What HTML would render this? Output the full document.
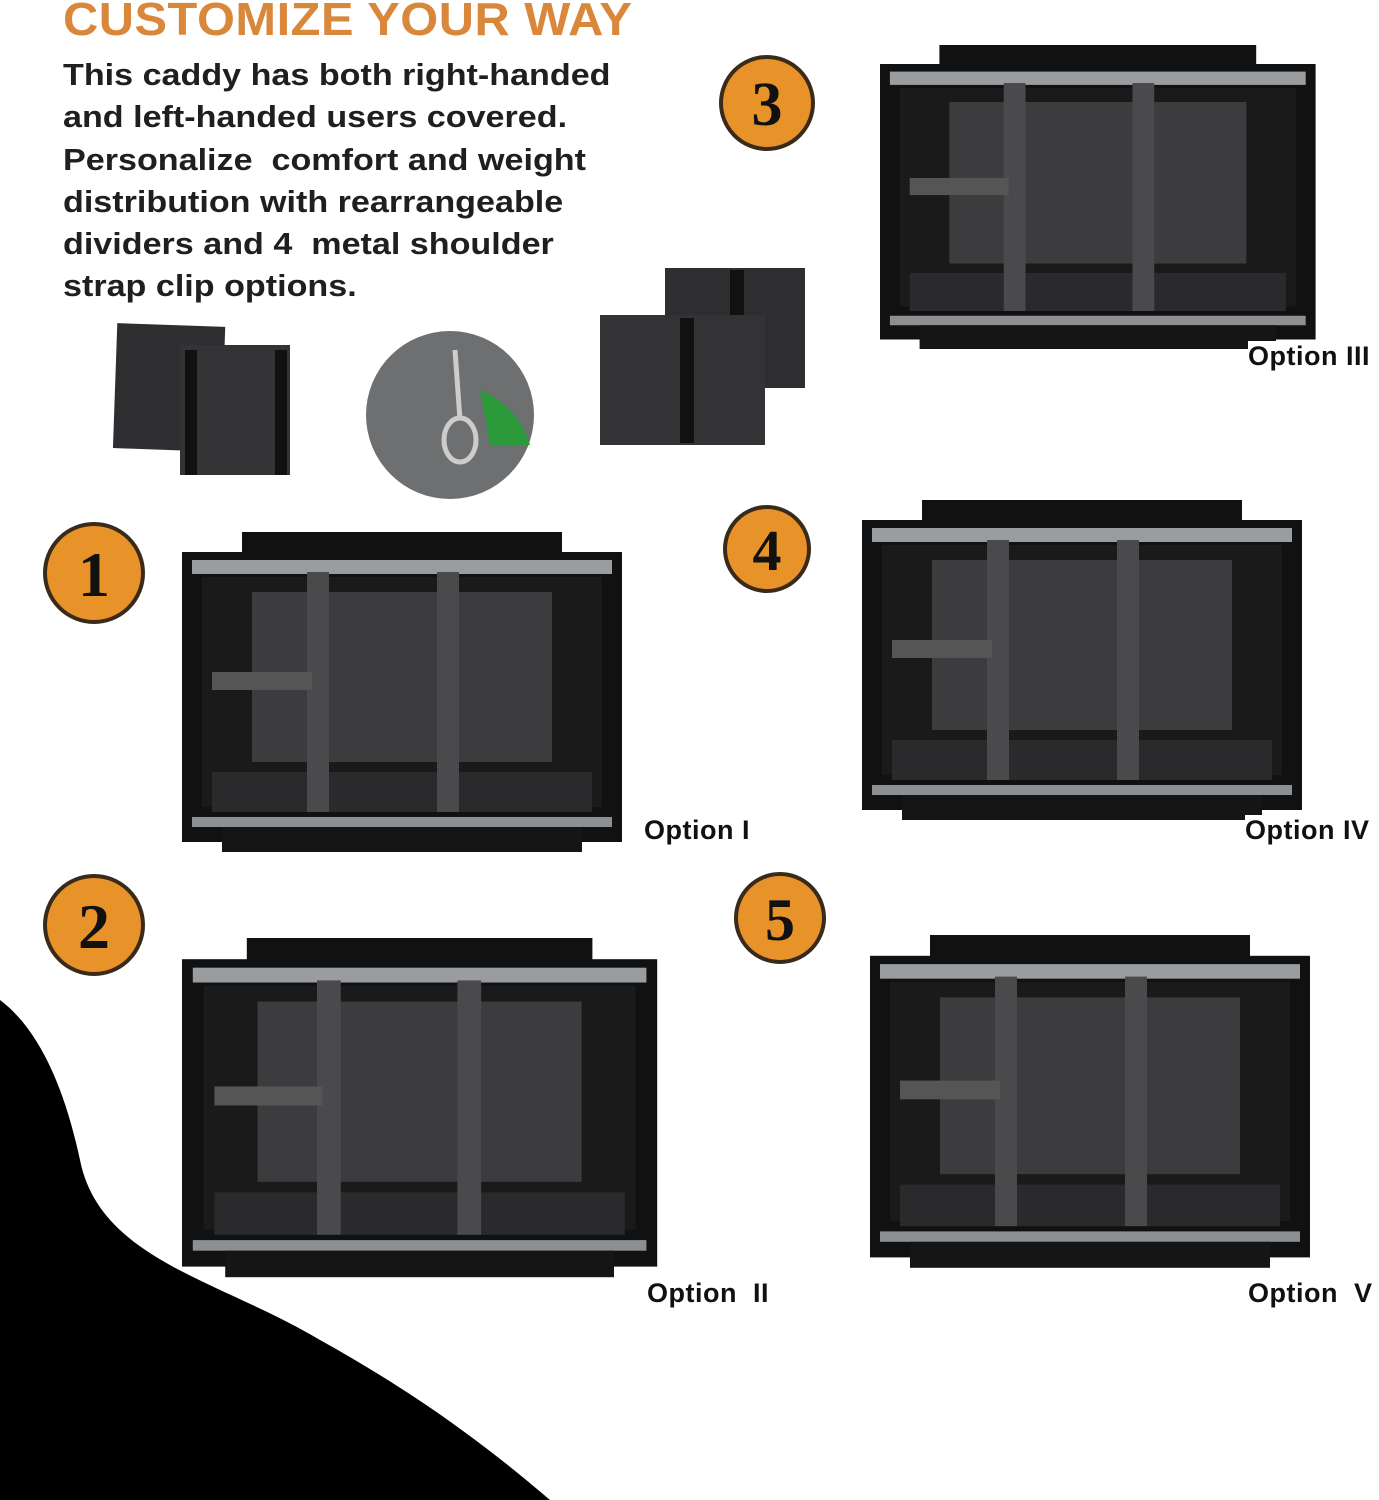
<!DOCTYPE html>
<html><head><meta charset="utf-8"><style>
html,body{margin:0;padding:0;background:#fff;}
body{width:1379px;height:1500px;position:relative;overflow:hidden;font-family:"Liberation Sans",sans-serif;}
.t{position:absolute;left:63px;top:-8px;font-size:46px;font-weight:bold;color:#d9873a;letter-spacing:0.5px;white-space:nowrap;transform:scaleX(1.06);transform-origin:left top;}
.p{position:absolute;left:63px;top:54px;font-size:31px;font-weight:bold;color:#1f1f1f;line-height:42.3px;white-space:nowrap;transform:scaleX(1.1);transform-origin:left top;}
.o{position:absolute;font-size:27px;font-weight:bold;color:#111;white-space:pre;letter-spacing:0.5px;background:#fff;z-index:2;}
svg{position:absolute;left:0;top:0;}
</style></head><body>
<svg width="1379" height="1500" viewBox="0 0 1379 1500">
<defs>
<g id="bag">
 <rect x="0" y="20" width="440" height="290" fill="#111"/>
 <rect x="10" y="28" width="420" height="14" fill="#9a9da0"/>
 <rect x="20" y="45" width="400" height="230" fill="#1a1a1a"/>
 <rect x="70" y="60" width="300" height="170" fill="#3c3c3e"/>
 <rect x="30" y="240" width="380" height="40" fill="#2a2a2c"/>
 <rect x="10" y="285" width="420" height="10" fill="#8d9093"/>
 <rect x="125" y="40" width="22" height="240" fill="#4a4a4c"/>
 <rect x="255" y="40" width="22" height="240" fill="#4a4a4c"/>
 <rect x="30" y="140" width="100" height="18" fill="#555"/>
 <rect x="60" y="0" width="320" height="22" fill="#111"/>
 <rect x="40" y="295" width="360" height="25" fill="#151515"/>
</g>
</defs>
<path d="M0,1000 C40,1030 65,1090 80,1160 C100,1260 220,1280 320,1340 C410,1390 480,1440 550,1500 L0,1500 Z" fill="#000"/>
<use href="#bag" transform="translate(880,45) scale(0.99,0.95)"/>
<use href="#bag" transform="translate(182,532) scale(1.0,1.0)"/>
<use href="#bag" transform="translate(862,500) scale(1.0,1.0)"/>
<use href="#bag" transform="translate(182,938) scale(1.08,1.06)"/>
<use href="#bag" transform="translate(870,935) scale(1.0,1.04)"/>
<rect x="115" y="325" width="108" height="125" fill="#2e2e30" transform="rotate(2 170 390)"/>
<rect x="180" y="345" width="110" height="130" fill="#333336"/>
<rect x="185" y="350" width="12" height="125" fill="#111"/>
<rect x="275" y="350" width="12" height="125" fill="#111"/>
<circle cx="450" cy="415" r="84" fill="#6d6f70"/>
<path d="M480,390 a84,84 0 0 1 50,55 l-40,0 z" fill="#2a9a3a"/>
<ellipse cx="460" cy="440" rx="16" ry="22" fill="none" stroke="#ccc" stroke-width="5"/>
<line x1="455" y1="350" x2="460" y2="420" stroke="#ccc" stroke-width="5"/>
<rect x="665" y="268" width="140" height="120" fill="#2e2e30"/>
<rect x="600" y="315" width="165" height="130" fill="#333336"/>
<rect x="680" y="318" width="14" height="125" fill="#111"/>
<rect x="730" y="270" width="14" height="45" fill="#111"/>
<g font-family="Liberation Serif,serif" font-weight="bold" text-anchor="middle" fill="#111">
<circle cx="767" cy="103" r="46" fill="#e8922a" stroke="#3a2a1a" stroke-width="4"/><text x="767" y="125" font-size="62">3</text>
<circle cx="94" cy="573" r="49" fill="#e8922a" stroke="#3a2a1a" stroke-width="4"/><text x="94" y="596" font-size="64">1</text>
<circle cx="767" cy="549" r="42" fill="#e8922a" stroke="#3a2a1a" stroke-width="4"/><text x="767" y="570" font-size="58">4</text>
<circle cx="94" cy="925" r="49" fill="#e8922a" stroke="#3a2a1a" stroke-width="4"/><text x="94" y="948" font-size="64">2</text>
<circle cx="780" cy="918" r="44" fill="#e8922a" stroke="#3a2a1a" stroke-width="4"/><text x="780" y="940" font-size="60">5</text>
</g>
</svg>
<div class="t">CUSTOMIZE YOUR WAY</div>
<div class="p">This caddy has both right-handed<br>and left-handed users covered.<br>Personalize&nbsp; comfort and weight<br>distribution with rearrangeable<br>dividers and 4&nbsp; metal shoulder<br>strap clip options.</div>
<div class="o" style="left:1248px;top:341px">Option III</div>
<div class="o" style="left:644px;top:815px">Option I</div>
<div class="o" style="left:1245px;top:815px">Option IV</div>
<div class="o" style="left:647px;top:1278px">Option  II</div>
<div class="o" style="left:1248px;top:1278px">Option  V</div>
</body></html>
